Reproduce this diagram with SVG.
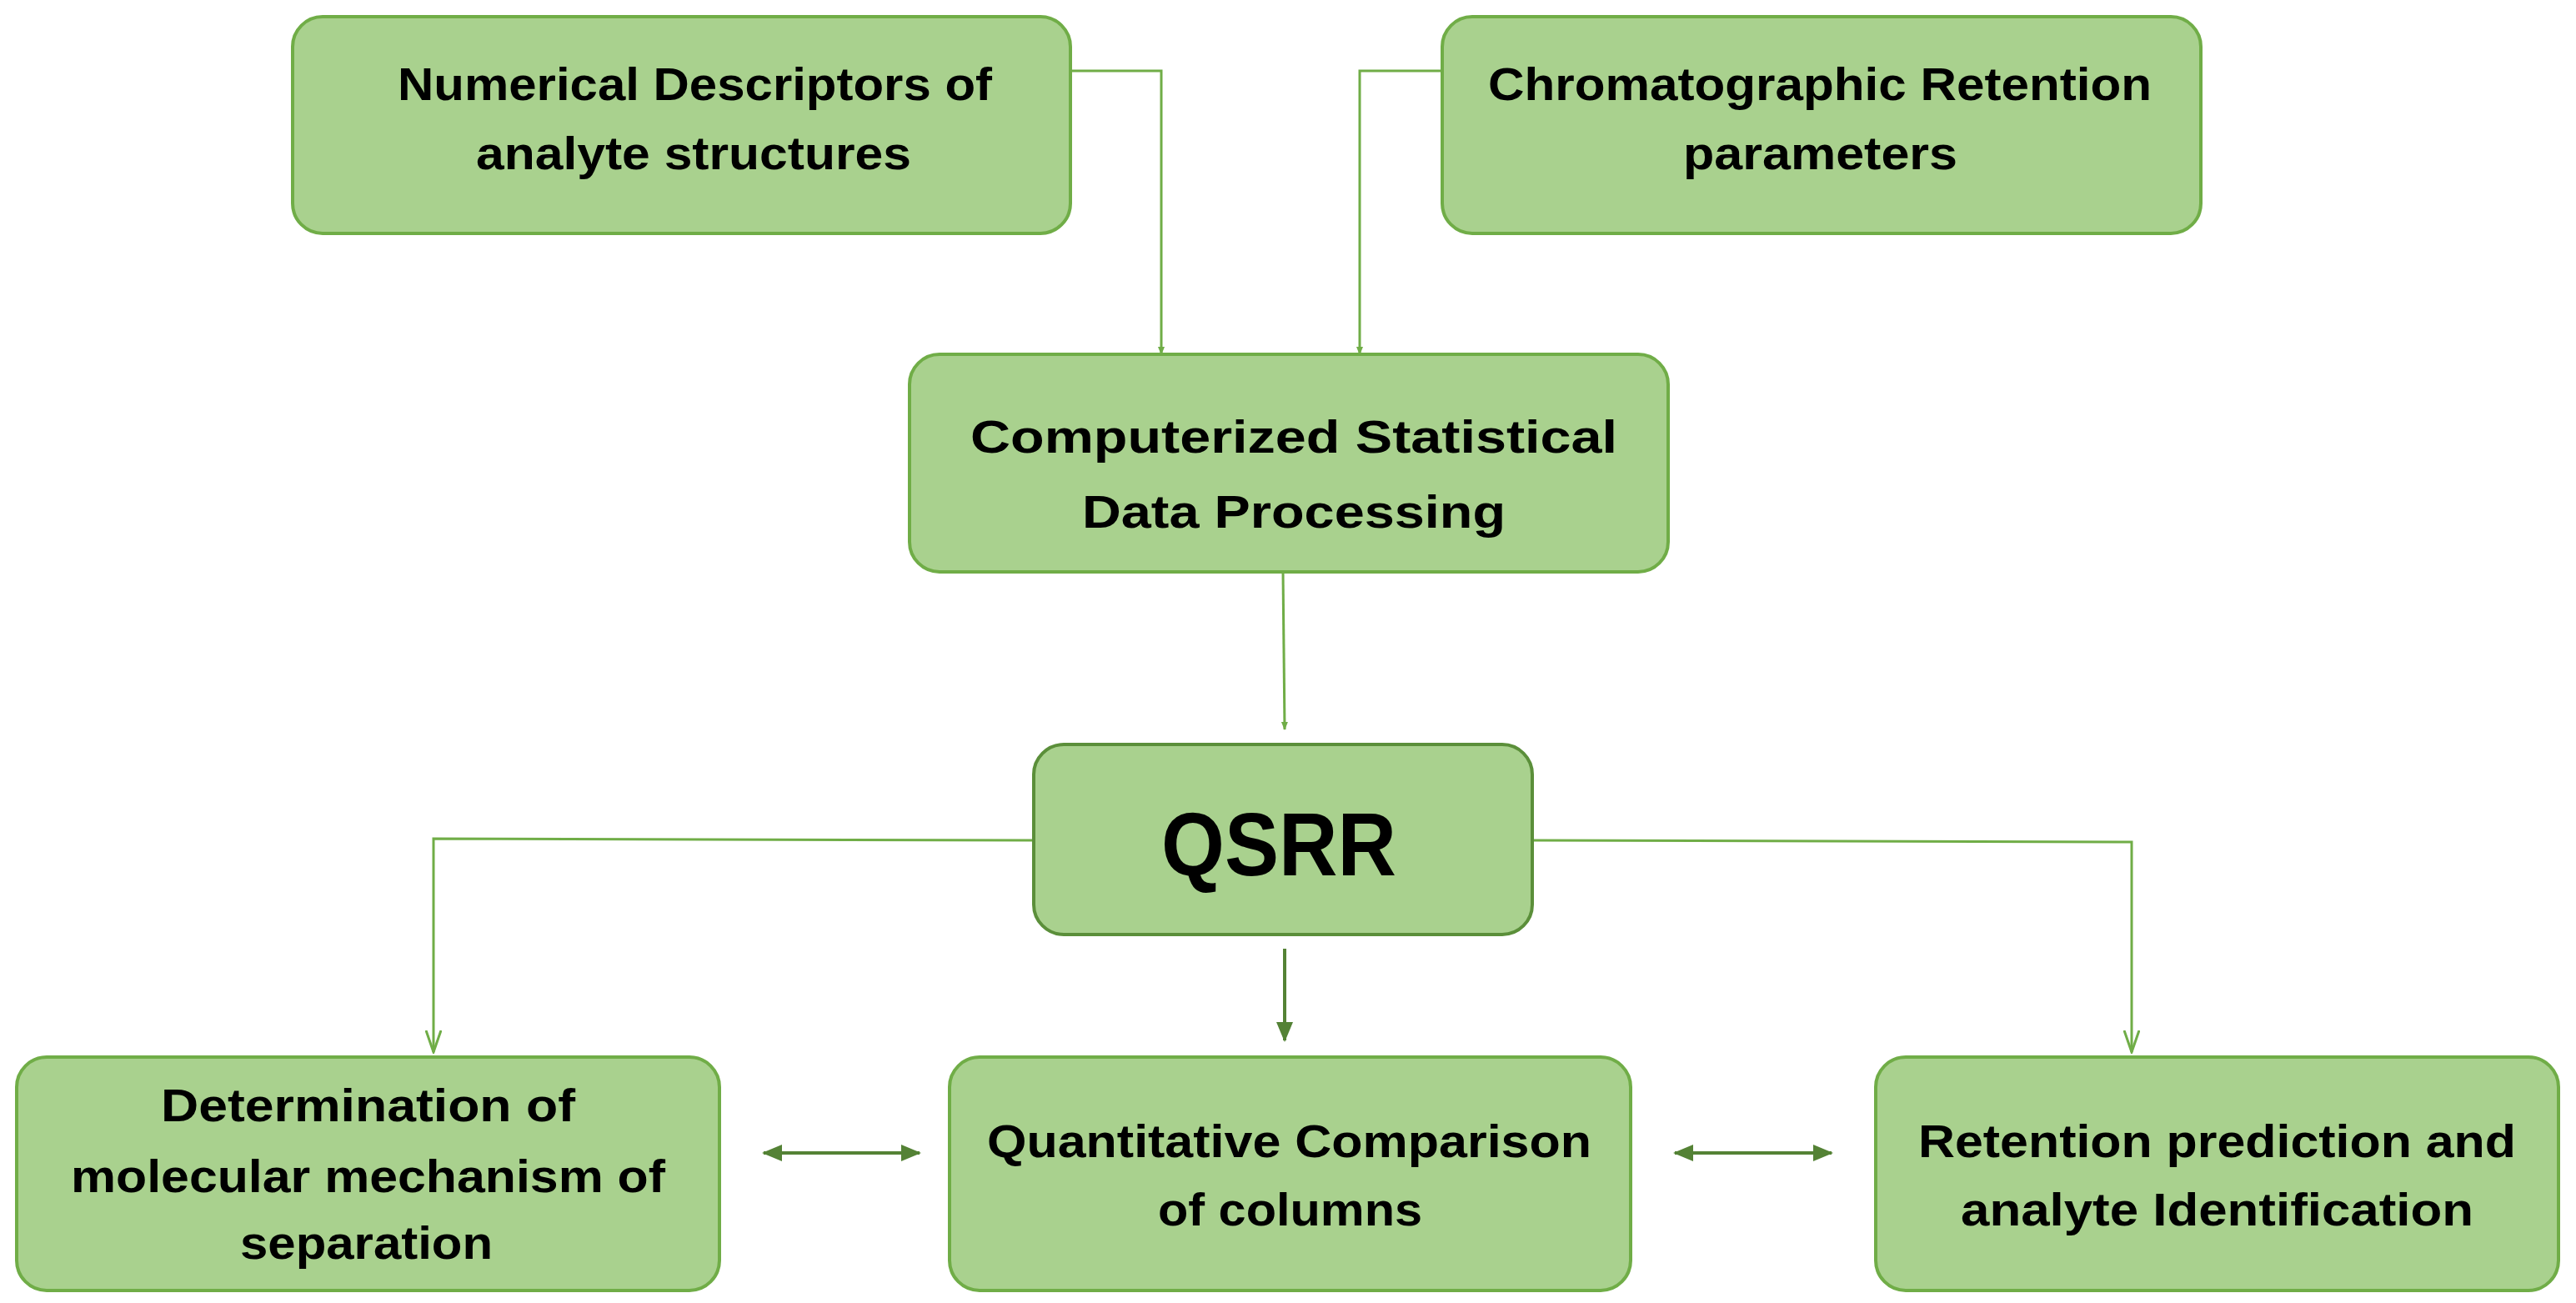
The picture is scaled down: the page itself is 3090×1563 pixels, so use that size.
<svg xmlns="http://www.w3.org/2000/svg" width="3090" height="1563" viewBox="0 0 3090 1563">
<style>
.box{fill:#a9d18e;stroke:#70ad47;stroke-width:4}
.t{font-family:"Liberation Sans",Arial,sans-serif;font-weight:bold;font-size:56px;fill:#000}
.c{fill:none;stroke:#70ad47;stroke-width:3}
.d{fill:none;stroke:#548235;stroke-width:4}
</style>
<defs>
<marker id="af" markerWidth="10" markerHeight="10" refX="9" refY="5" orient="auto" markerUnits="userSpaceOnUse" viewBox="0 0 10 10"><path d="M0,1 L10,5 L0,9 z" fill="#70ad47"/></marker>
<marker id="ao" markerWidth="28" markerHeight="20" refX="26" refY="10" orient="auto" markerUnits="userSpaceOnUse"><path d="M0,1 L26,10 L0,19" fill="none" stroke="#70ad47" stroke-width="3"/></marker>
<marker id="ad" markerWidth="24" markerHeight="20" refX="22" refY="10" orient="auto-start-reverse" markerUnits="userSpaceOnUse"><path d="M0,0 L24,10 L0,20 z" fill="#548235"/></marker>
</defs>
<g id="connectors">
<path class="c" d="M1284,85 H1393 V425" marker-end="url(#af)" style="stroke-width:3"/>
<path class="c" d="M1730,85 H1631 V425" marker-end="url(#af)"/>
<path class="c" d="M1539,686 L1541,875" marker-end="url(#af)"/>
<path class="c" d="M1240,1008 L520,1006 V1262" marker-end="url(#ao)"/>
<path class="c" d="M1838,1008 L2557,1010 V1262" marker-end="url(#ao)"/>
<path class="d" d="M1541,1138 V1248" marker-end="url(#ad)"/>
<path class="d" d="M916,1383 H1103" marker-start="url(#ad)" marker-end="url(#ad)"/>
<path class="d" d="M2009,1383 H2197" marker-start="url(#ad)" marker-end="url(#ad)"/>
</g>
<g id="n1"><rect class="box" x="351" y="20" width="933" height="260" rx="36"/>
<text class="t" x="477" y="120" textLength="713" lengthAdjust="spacingAndGlyphs">Numerical Descriptors of</text>
<text class="t" x="571" y="203" textLength="522" lengthAdjust="spacingAndGlyphs">analyte structures</text></g>
<g id="n2"><rect class="box" x="1730" y="20" width="910" height="260" rx="36"/>
<text class="t" x="1785" y="120" textLength="796" lengthAdjust="spacingAndGlyphs">Chromatographic Retention</text>
<text class="t" x="2019" y="203" textLength="329" lengthAdjust="spacingAndGlyphs">parameters</text></g>
<g id="n3"><rect class="box" x="1091" y="425" width="910" height="261" rx="36"/>
<text class="t" x="1164" y="543" textLength="776" lengthAdjust="spacingAndGlyphs">Computerized Statistical</text>
<text class="t" x="1298" y="633" textLength="508" lengthAdjust="spacingAndGlyphs">Data Processing</text></g>
<g id="n4"><rect class="box" x="1240" y="893" width="598" height="228" rx="36" style="stroke:#5b8f3a"/>
<text class="t" x="1393" y="1050" style="font-size:108px" textLength="282" lengthAdjust="spacingAndGlyphs">QSRR</text></g>
<g id="n5"><rect class="box" x="20" y="1268" width="843" height="280" rx="36"/>
<text class="t" x="193" y="1345" textLength="497" lengthAdjust="spacingAndGlyphs">Determination of</text>
<text class="t" x="85" y="1430" textLength="713" lengthAdjust="spacingAndGlyphs">molecular mechanism of</text>
<text class="t" x="288" y="1510" textLength="303" lengthAdjust="spacingAndGlyphs">separation</text></g>
<g id="n6"><rect class="box" x="1139" y="1268" width="817" height="280" rx="36"/>
<text class="t" x="1184" y="1388" textLength="725" lengthAdjust="spacingAndGlyphs">Quantitative Comparison</text>
<text class="t" x="1389" y="1470" textLength="317" lengthAdjust="spacingAndGlyphs">of columns</text></g>
<g id="n7"><rect class="box" x="2250" y="1268" width="819" height="280" rx="36"/>
<text class="t" x="2301" y="1388" textLength="717" lengthAdjust="spacingAndGlyphs">Retention prediction and</text>
<text class="t" x="2352" y="1470" textLength="615" lengthAdjust="spacingAndGlyphs">analyte Identification</text></g>
</svg>
